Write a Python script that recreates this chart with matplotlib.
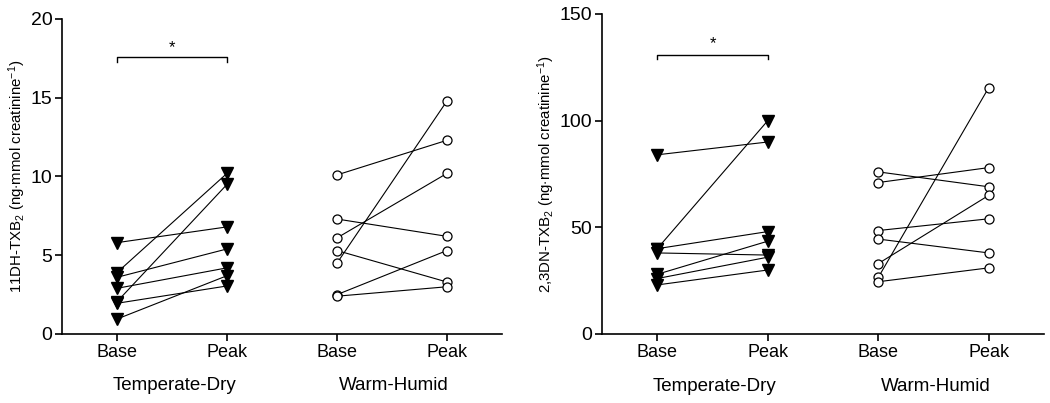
import matplotlib
matplotlib.use("Agg")
import matplotlib.pyplot as plt
import matplotlib.transforms as mtransforms

plt.rcParams['font.family'] = ['Liberation Sans', 'DejaVu Sans']
plt.rcParams['mathtext.fontset'] = 'custom'
plt.rcParams['mathtext.rm'] = 'Liberation Sans'
plt.rcParams['mathtext.it'] = 'Liberation Sans:italic'

# x positions / labels
tick_labels = ["Base", "Peak", "Base", "Peak"]
groups = ["Temperate-Dry", "Warm-Humid"]

# 11DH-TXB2 (left panel)
dh_td_base = [5.8, 3.9, 3.6, 2.9, 2.05, 1.95, 0.95]
dh_td_peak = [6.8, 10.2, 5.4, 4.2, 9.5, 3.05, 3.7]
dh_wh_base = [10.1, 7.3, 6.1, 5.3, 4.5, 2.5, 2.4]
dh_wh_peak = [12.3, 6.2, 10.2, 3.3, 14.8, 5.3, 3.0]

# 2,3DN-TXB2 (right panel)
dn_td_base = [84, 40, 40, 38, 28, 26, 23]
dn_td_peak = [90, 100, 48, 37, 43.5, 36, 30]
dn_wh_base = [76, 71, 48.5, 44.5, 33, 26.5, 24.5]
dn_wh_peak = [69, 78, 54, 38, 65, 115.5, 31]

fig = plt.figure(figsize=(10.5, 4.03), dpi=100)
ax1 = fig.add_axes([62 / 1050, 69 / 403, 440 / 1050, 315 / 403])
ax2 = fig.add_axes([602 / 1050, 69 / 403, 442 / 1050, 320 / 403])


def draw_panel(ax, td_base, td_peak, wh_base, wh_peak, ymax, yticks, ylabel,
               br_y, br_drop, star_y, lpad):
    for b, p in zip(td_base, td_peak):
        ax.plot([1, 2], [b, p], color='black', lw=0.8, zorder=2)
    ax.plot([1] * len(td_base), td_base, 'v', color='black', ms=8.5, zorder=3)
    ax.plot([2] * len(td_peak), td_peak, 'v', color='black', ms=8.5, zorder=3)
    for b, p in zip(wh_base, wh_peak):
        ax.plot([3, 4], [b, p], color='black', lw=0.8, zorder=2)
    ax.plot([3] * len(wh_base), wh_base, 'o', mfc='white', mec='black',
            mew=0.9, ms=6.5, zorder=3)
    ax.plot([4] * len(wh_peak), wh_peak, 'o', mfc='white', mec='black',
            mew=0.9, ms=6.5, zorder=3)

    ax.set_xlim(0.5, 4.5)
    ax.set_ylim(0, ymax)
    ax.set_yticks(yticks)
    ax.set_xticks([1, 2, 3, 4])
    ax.set_xticklabels(tick_labels)
    for sp in ['top', 'right']:
        ax.spines[sp].set_visible(False)
    for sp in ['left', 'bottom']:
        ax.spines[sp].set_linewidth(1.2)
    ax.tick_params(axis='both', direction='out', length=5, width=1.2)
    ax.tick_params(axis='x', labelsize=13, pad=2)
    ax.tick_params(axis='y', labelsize=14, pad=2)
    ax.set_ylabel(ylabel, fontsize=10.8, labelpad=lpad)

    trans = mtransforms.blended_transform_factory(ax.transData, ax.transAxes)
    ax.text(1.52, -0.165, groups[0], transform=trans, ha='center', va='center',
            fontsize=13.5)
    ax.text(3.52, -0.165, groups[1], transform=trans, ha='center', va='center',
            fontsize=13.5)

    # significance bracket
    ax.plot([1, 1, 2, 2], [br_y - br_drop, br_y, br_y, br_y - br_drop],
            color='black', lw=1.0, clip_on=False)
    ax.text(1.5, star_y, '*', ha='center', va='center', fontsize=12)


draw_panel(ax1, dh_td_base, dh_td_peak, dh_wh_base, dh_wh_peak, 20,
           [0, 5, 10, 15, 20], r'11DH-TXB$_2$ (ng$\cdot$mmol creatinine$^{-1}$)',
           17.6, 0.35, 18.2, 2)
draw_panel(ax2, dn_td_base, dn_td_peak, dn_wh_base, dn_wh_peak, 150,
           [0, 50, 100, 150], r'2,3DN-TXB$_2$ (ng$\cdot$mmol creatinine$^{-1}$)',
           130.8, 2.0, 136.0, 2)

fig.savefig('out.png', dpi=100)
